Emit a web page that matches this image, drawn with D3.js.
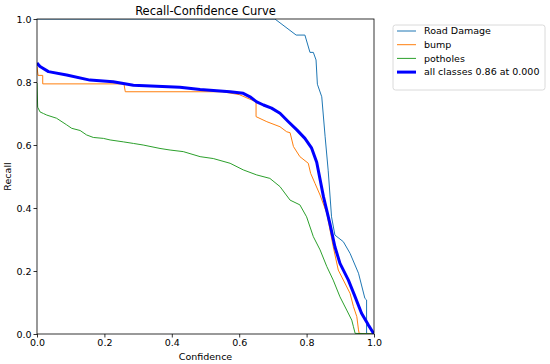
<!DOCTYPE html>
<html>
<head>
<meta charset="utf-8">
<script src="https://cdn.jsdelivr.net/npm/d3@7"></script>
<style>
  body { margin: 0; background: #fff; }
  svg { font-family: "DejaVu Sans", sans-serif; }
</style>
</head>
<body>
<div id="chart"></div>
<script>
// confidence / recall pairs
const roadDamage = [
  [0, 1], [0.706, 1.0], [0.769, 0.949], [0.795, 0.949], [0.810, 0.894], [0.820, 0.894],
  [0.828, 0.870], [0.832, 0.793], [0.845, 0.753], [0.855, 0.626], [0.864, 0.52],
  [0.874, 0.372], [0.884, 0.314], [0.909, 0.293], [0.929, 0.256], [0.954, 0.193],
  [0.973, 0.113], [0.978, 0.108], [0.978, 0.002], [1.0, 0]
];
const bump = [
  [0, 0.849], [0.003, 0.821], [0.017, 0.821], [0.017, 0.794], [0.258, 0.794], [0.262, 0.769],
  [0.55, 0.769], [0.6, 0.760], [0.650, 0.737], [0.650, 0.690], [0.682, 0.674],
  [0.721, 0.658], [0.741, 0.642], [0.751, 0.639], [0.761, 0.595], [0.780, 0.563],
  [0.805, 0.542], [0.812, 0.51], [0.825, 0.478], [0.840, 0.441], [0.860, 0.383],
  [0.879, 0.277], [0.894, 0.203], [0.929, 0.129], [0.939, 0.087], [0.949, 0.055],
  [0.954, 0.013], [0.956, 0.002], [1.0, 0]
];
const potholes = [
  [0, 0.797], [0.002, 0.72], [0.009, 0.705], [0.019, 0.70], [0.029, 0.695], [0.058, 0.685],
  [0.088, 0.664], [0.103, 0.653], [0.128, 0.646], [0.147, 0.632], [0.167, 0.624],
  [0.197, 0.621], [0.217, 0.616], [0.256, 0.610], [0.286, 0.605], [0.315, 0.60],
  [0.365, 0.589], [0.395, 0.584], [0.434, 0.579], [0.484, 0.563], [0.523, 0.557],
  [0.573, 0.542], [0.612, 0.521], [0.652, 0.505], [0.691, 0.494], [0.721, 0.468],
  [0.751, 0.425], [0.780, 0.41], [0.800, 0.372], [0.820, 0.309], [0.840, 0.267],
  [0.860, 0.214], [0.879, 0.171], [0.899, 0.118], [0.919, 0.076], [0.934, 0.044],
  [0.939, 0.023], [0.944, 0.002], [1.0, 0]
];
const allClasses = [
  [0, 0.86], [0.009, 0.849], [0.034, 0.833], [0.088, 0.822], [0.157, 0.806], [0.226, 0.801],
  [0.286, 0.790], [0.424, 0.783], [0.484, 0.776], [0.573, 0.769], [0.612, 0.764],
  [0.632, 0.753], [0.652, 0.737], [0.672, 0.727], [0.696, 0.717], [0.721, 0.701],
  [0.746, 0.674], [0.771, 0.648], [0.795, 0.621], [0.815, 0.590], [0.830, 0.545],
  [0.850, 0.436], [0.869, 0.351], [0.884, 0.277], [0.899, 0.224], [0.924, 0.171],
  [0.944, 0.118], [0.963, 0.066], [0.983, 0.029], [1.0, 0]
];
const seriesNames = ["Road Damage", "bump", "potholes", "all classes 0.86 at 0.000"];
const ticks = [0, 0.2, 0.4, 0.6, 0.8, 1.0];

const width = 550, height = 364;
const margin = { top: 19, right: 176, bottom: 30, left: 37 };

const series = [
  { name: seriesNames[0], values: roadDamage, color: "#1f77b4", w: 1 },
  { name: seriesNames[1], values: bump, color: "#ff7f0e", w: 1 },
  { name: seriesNames[2], values: potholes, color: "#2ca02c", w: 1 },
  { name: seriesNames[3], values: allClasses, color: "#0000ff", w: 3 }
];

const svg = d3.select("#chart").append("svg")
  .attr("width", width)
  .attr("height", height);

const x = d3.scaleLinear().domain([0, 1]).range([margin.left, width - margin.right]);
const y = d3.scaleLinear().domain([0, 1]).range([height - margin.bottom, margin.top]);

svg.append("clipPath").attr("id", "clip")
  .append("rect")
  .attr("x", x(0)).attr("y", y(1))
  .attr("width", x(1) - x(0)).attr("height", y(0) - y(1));

const line = d3.line().x(d => x(d[0])).y(d => y(d[1]));

svg.append("g")
  .attr("clip-path", "url(#clip)")
  .selectAll("path")
  .data(series)
  .join("path")
  .attr("fill", "none")
  .attr("stroke", d => d.color)
  .attr("stroke-width", d => d.w)
  .attr("stroke-linejoin", "round")
  .attr("d", d => line(d.values));

const fmt = d3.format(".1f");
const xAxis = svg.append("g")
  .attr("transform", `translate(0,${y(0)})`)
  .call(d3.axisBottom(x).tickValues(ticks).tickFormat(fmt).tickSize(3.5).tickPadding(2));
const yAxis = svg.append("g")
  .attr("transform", `translate(${x(0)},0)`)
  .call(d3.axisLeft(y).tickValues(ticks).tickFormat(fmt).tickSize(3.5).tickPadding(2));

[xAxis, yAxis].forEach(a => {
  a.select(".domain").remove();
  a.selectAll("text").attr("font-size", 9.5).attr("fill", "#000").attr("font-family", "DejaVu Sans");
  a.selectAll("line").attr("stroke", "#000").attr("stroke-width", 0.8);
});

// frame
svg.append("rect")
  .attr("x", x(0)).attr("y", y(1))
  .attr("width", x(1) - x(0)).attr("height", y(0) - y(1))
  .attr("fill", "none").attr("stroke", "#000").attr("stroke-width", 0.8);

svg.append("text")
  .attr("x", (x(0) + x(1)) / 2).attr("y", 14.5)
  .attr("text-anchor", "middle")
  .attr("font-size", 11.5)
  .text("Recall-Confidence Curve");

svg.append("text")
  .attr("x", (x(0) + x(1)) / 2).attr("y", 360)
  .attr("text-anchor", "middle")
  .attr("font-size", 9.5)
  .text("Confidence");

svg.append("text")
  .attr("transform", `translate(11,${(y(0) + y(1)) / 2}) rotate(-90)`)
  .attr("text-anchor", "middle")
  .attr("font-size", 9.5)
  .text("Recall");

// legend
const lg = svg.append("g").attr("transform", "translate(393,25)");
lg.append("rect")
  .attr("width", 152).attr("height", 65).attr("rx", 2.5)
  .attr("fill", "#fff").attr("stroke", "#d0d0d0").attr("stroke-width", 0.8);
const items = lg.selectAll("g.item")
  .data(series)
  .join("g")
  .attr("class", "item")
  .attr("transform", (d, i) => `translate(0,${6 + i * 13.7})`);
items.append("line")
  .attr("x1", 4).attr("x2", 23)
  .attr("stroke", d => d.color)
  .attr("stroke-width", d => d.w);
items.append("text")
  .attr("x", 31).attr("y", 3.3)
  .attr("font-size", 9.5)
  .text(d => d.name);
</script>
</body>
</html>
